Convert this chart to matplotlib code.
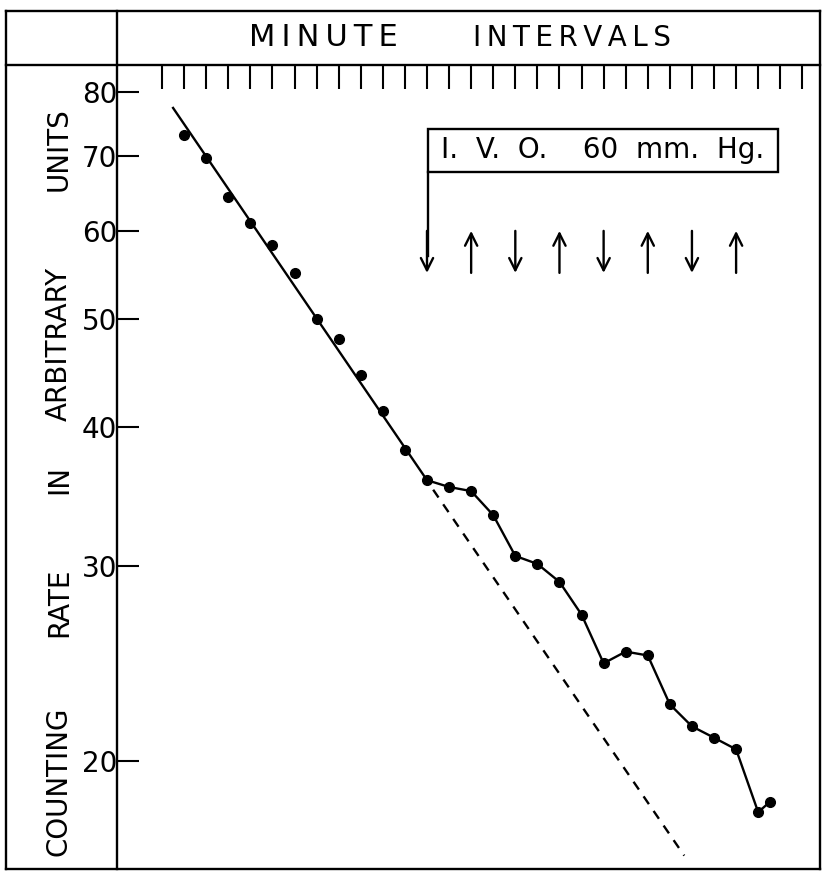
import matplotlib
matplotlib.use('Agg')
import matplotlib.pyplot as plt
from matplotlib.lines import Line2D
from matplotlib.patches import Rectangle
from matplotlib.ticker import FixedLocator, FixedFormatter, NullLocator

# counting rate readings, one per minute
minutes = [1, 2, 3, 4, 5, 6, 7, 8, 9, 10, 11, 12, 13, 14, 15, 16, 17, 18,
           19, 20, 21, 22, 23, 24, 25, 26, 27, 27.55]
rate = [73.2, 69.8, 64.4, 61.0, 58.3, 55.0, 50.0, 48.0, 44.5, 41.3, 38.1,
        35.8, 35.3, 35.0, 33.3, 30.6, 30.1, 29.0, 27.1, 24.5, 25.1, 24.9,
        22.5, 21.5, 21.0, 20.5, 18.0, 18.4]

# fitted decay line and its dashed extrapolation
fit_x = [0.5, 12]
fit_y = [77.4, 35.8]
extra_x = [12.28, 23.65]
extra_y = [35.1, 16.45]

# occlusion on / off marks
arrow_minutes = [12, 14, 16, 18, 20, 22, 24, 26]
arrow_dirs = ['down', 'up', 'down', 'up', 'down', 'up', 'down', 'up']

y_ticks = [20, 30, 40, 50, 60, 70, 80]
y_labels = ['20', '30', '40', '50', '60', '70', '80']
x_ticks = list(range(0, 30))

W, H = 827, 876
fig = plt.figure(figsize=(W / 100, H / 100), dpi=100)


def fx(px):
    return px / W


def fy(py):
    return 1 - py / H


ax = fig.add_axes([fx(117), fy(869), fx(820) - fx(117), fy(65) - fy(869)])
ax.set_yscale('log')
ax.set_xlim(-2.04, 29.8)
ax.set_ylim(16.0, 84.6)
for s in ax.spines.values():
    s.set_visible(False)

ax.xaxis.set_major_locator(FixedLocator(x_ticks))
ax.xaxis.set_minor_locator(NullLocator())
ax.tick_params(axis='x', which='major', top=True, bottom=False,
               labeltop=False, labelbottom=False, direction='in',
               length=17.5, width=1.5)
ax.yaxis.set_major_locator(FixedLocator(y_ticks))
ax.yaxis.set_major_formatter(FixedFormatter(y_labels))
ax.yaxis.set_minor_locator(NullLocator())
ax.tick_params(axis='y', which='major', direction='in', length=16,
               width=1.5, pad=0, labelsize=20)

# points and lines
ax.plot(minutes, rate, 'o', color='black', markersize=7)
ax.plot(fit_x, fit_y, color='black', lw=1.7)
ax.plot(minutes[11:], rate[11:], color='black', lw=1.7)
ax.plot(extra_x, extra_y, color='black', lw=1.7, dashes=(4, 3.5))

# label box with arrows
box = Rectangle((12.05, 67.8), 27.9 - 12.05, 74.1 - 67.8, fill=False,
                edgecolor='black', lw=1.7)
ax.add_patch(box)
ax.text((12.05 + 27.9) / 2, 70.9, 'I.  V.  O.    60  mm.  Hg.',
        ha='center', va='center', fontsize=20)
ax.plot([12.05, 12.05], [67.8, 57.0], color='black', lw=1.7)
for m, d in zip(arrow_minutes, arrow_dirs):
    if d == 'down':
        start, end = 60.0, 55.0
    else:
        start, end = 55.0, 60.0
    ax.annotate('', xy=(m, end), xytext=(m, start),
                arrowprops=dict(arrowstyle='->', color='black', lw=1.7,
                                mutation_scale=22, shrinkA=0, shrinkB=0))

# outer frame
frame = [((6, 11), (820, 11)), ((6, 869), (820, 869)),
         ((6, 11), (6, 869)), ((820, 11), (820, 869)),
         ((117, 11), (117, 869)), ((6, 65), (820, 65))]
for (x0, y0), (x1, y1) in frame:
    fig.add_artist(Line2D([fx(x0), fx(x1)], [fy(y0), fy(y1)],
                          color='black', lw=1.7,
                          transform=fig.transFigure))

ts = '\u2009'
fig.text(fx(323), fy(38), ts.join('MINUTE'), ha='center', va='center',
         fontsize=22)
fig.text(fx(572), fy(38), ts.join('INTERVALS'), ha='center', va='center',
         fontsize=20)

words = ['COUNTING', 'RATE', 'IN', 'ARBITRARY', 'UNITS']
word_y = [781, 602, 480, 344, 149]
for w, yy in zip(words, word_y):
    fig.text(fx(59), fy(yy), w, rotation=90, ha='center', va='center',
             fontsize=20)

fig.savefig('out.png', dpi=100)
